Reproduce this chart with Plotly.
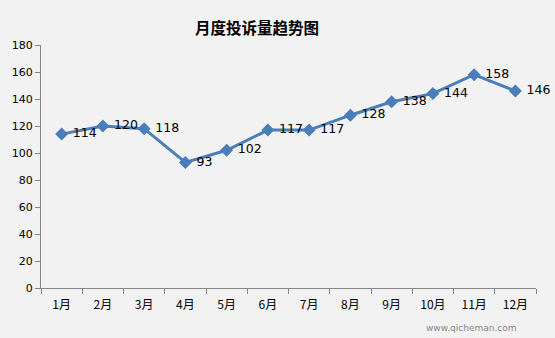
import plotly.graph_objects as go

months = ["1月", "2月", "3月", "4月", "5月", "6月", "7月", "8月", "9月", "10月", "11月", "12月"]
complaints = [114, 120, 118, 93, 102, 117, 117, 128, 138, 144, 158, 146]
y_ticks = [0, 20, 40, 60, 80, 100, 120, 140, 160, 180]

bg = "#f2f2f2"
fig = go.Figure()
fig.add_trace(go.Scatter(
    x=months, y=complaints, mode="lines+markers+text",
    text=["\u00a0" + str(v) for v in complaints], textposition="middle right",
    textfont=dict(family="DejaVu Sans, sans-serif", size=12.5, color="#000000"),
    line=dict(color="#4a7ebb", width=3),
    marker=dict(symbol="diamond", size=10, color="#4a7ebb"),
    cliponaxis=False, showlegend=False,
))
fig.update_layout(
    width=555, height=338,
    margin=dict(l=37, r=19, t=45, b=50),
    paper_bgcolor=bg, plot_bgcolor=bg,
    title=dict(text="<b>月度投诉量趋势图</b>", x=0.463, xanchor="center", y=0.915, yanchor="middle",
               font=dict(family="Noto Sans CJK SC", size=15.5, color="#000000")),
    xaxis=dict(type="category", range=[-0.5, 11.5], showline=True, linecolor="#868686", linewidth=1,
               ticks="outside", tickson="boundaries", ticklen=5, tickcolor="#868686",
               showgrid=False, zeroline=False, ticklabelstandoff=6,
               tickfont=dict(family="Noto Sans CJK SC", size=12, color="#000000")),
    yaxis=dict(range=[0, 180], tickvals=y_ticks, showline=True, linecolor="#868686", linewidth=1,
               ticks="outside", ticklen=5, tickcolor="#868686", showgrid=False, zeroline=False,
               tickfont=dict(family="DejaVu Sans, sans-serif", size=11, color="#000000")),
)
fig.add_annotation(text="www.qicheman.com", xref="paper", yref="paper", x=0.965, y=-0.165,
                   xanchor="right", yanchor="middle", showarrow=False,
                   font=dict(family="DejaVu Sans", size=9, color="#888888"))
fig.write_html("out.html")
